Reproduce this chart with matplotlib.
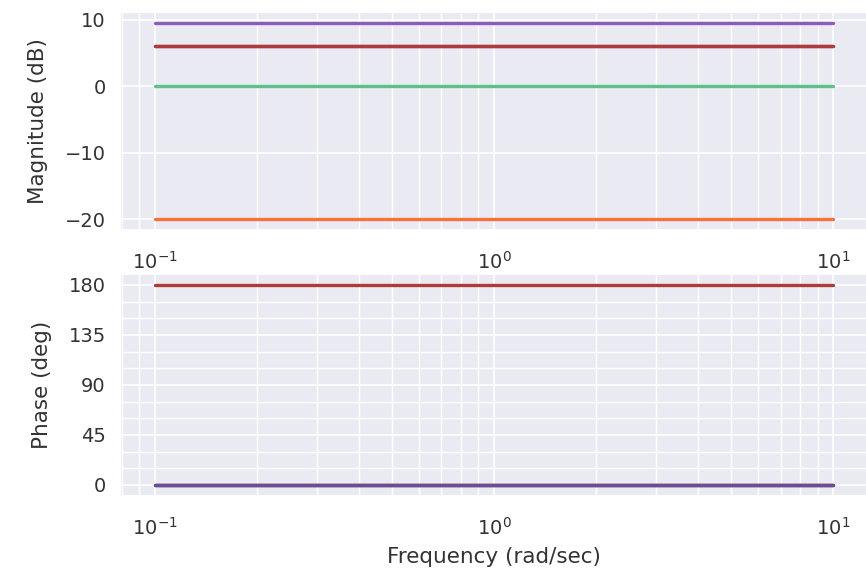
import matplotlib
matplotlib.use("Agg")
import matplotlib.pyplot as plt
import matplotlib.ticker as mticker
import seaborn as sns

# Frequency span (rad/sec) and the constant-gain responses
freq = [0.1, 10.0]
series_names = ["K=0.1", "K=1", "K=3", "K=2", "K=-2"]
mag_db = [-20.0, 0.0, 9.54, 6.02, 6.02]
phase_deg = [0.0, 0.0, 0.0, 0.0, 180.0]
colors = ["#f8713c", "#5fc08a", "#8b5cbc", "#6a4c9a", "#b03a3a"]
phase_ticks = [0, 45, 90, 135, 180]

sns.set_theme(style="darkgrid")
plt.rcParams["font.family"] = ["DejaVu Sans"]
text_color = "#333333"

W, H = 866, 573
fig = plt.figure(figsize=(W / 100, H / 100), dpi=100)

ax_mag = fig.add_axes([121 / W, 1 - 229 / H, 746 / W, 216 / H])
ax_ph = fig.add_axes([121 / W, 1 - 495 / H, 746 / W, 220 / H])

for name, m, p, c in zip(series_names, mag_db, phase_deg, colors):
    ax_mag.semilogx(freq, [m, m], color=c, lw=2.4, label=name)
    ax_ph.semilogx(freq, [p, p], color=c, lw=2.4, label=name)

for ax in (ax_mag, ax_ph):
    ax.set_xscale("log")
    ax.xaxis.set_major_locator(mticker.LogLocator(base=10))
    ax.xaxis.set_minor_locator(mticker.LogLocator(base=10, subs=range(2, 10)))
    ax.grid(True, which="major", color="white", lw=1.2)
    ax.grid(True, which="minor", color="white", lw=1.0)
    ax.tick_params(axis="both", which="both", labelsize=14.0,
                   labelcolor=text_color, length=0)
    ax.tick_params(axis="x", which="both", pad=16)
    ax.tick_params(axis="y", which="both", pad=11)
    for s in ax.spines.values():
        s.set_visible(False)

ax_ph.yaxis.set_major_locator(mticker.FixedLocator(phase_ticks))
ax_ph.yaxis.set_minor_locator(mticker.MultipleLocator(15))

ax_mag.set_ylabel("Magnitude (dB)", fontsize=15.5, color=text_color, labelpad=12)
ax_ph.set_ylabel("Phase (deg)", fontsize=15.5, color=text_color, labelpad=12)
ax_ph.set_xlabel("Frequency (rad/sec)", fontsize=15.5, color=text_color, labelpad=6)

fig.savefig("out.png", dpi=100)
